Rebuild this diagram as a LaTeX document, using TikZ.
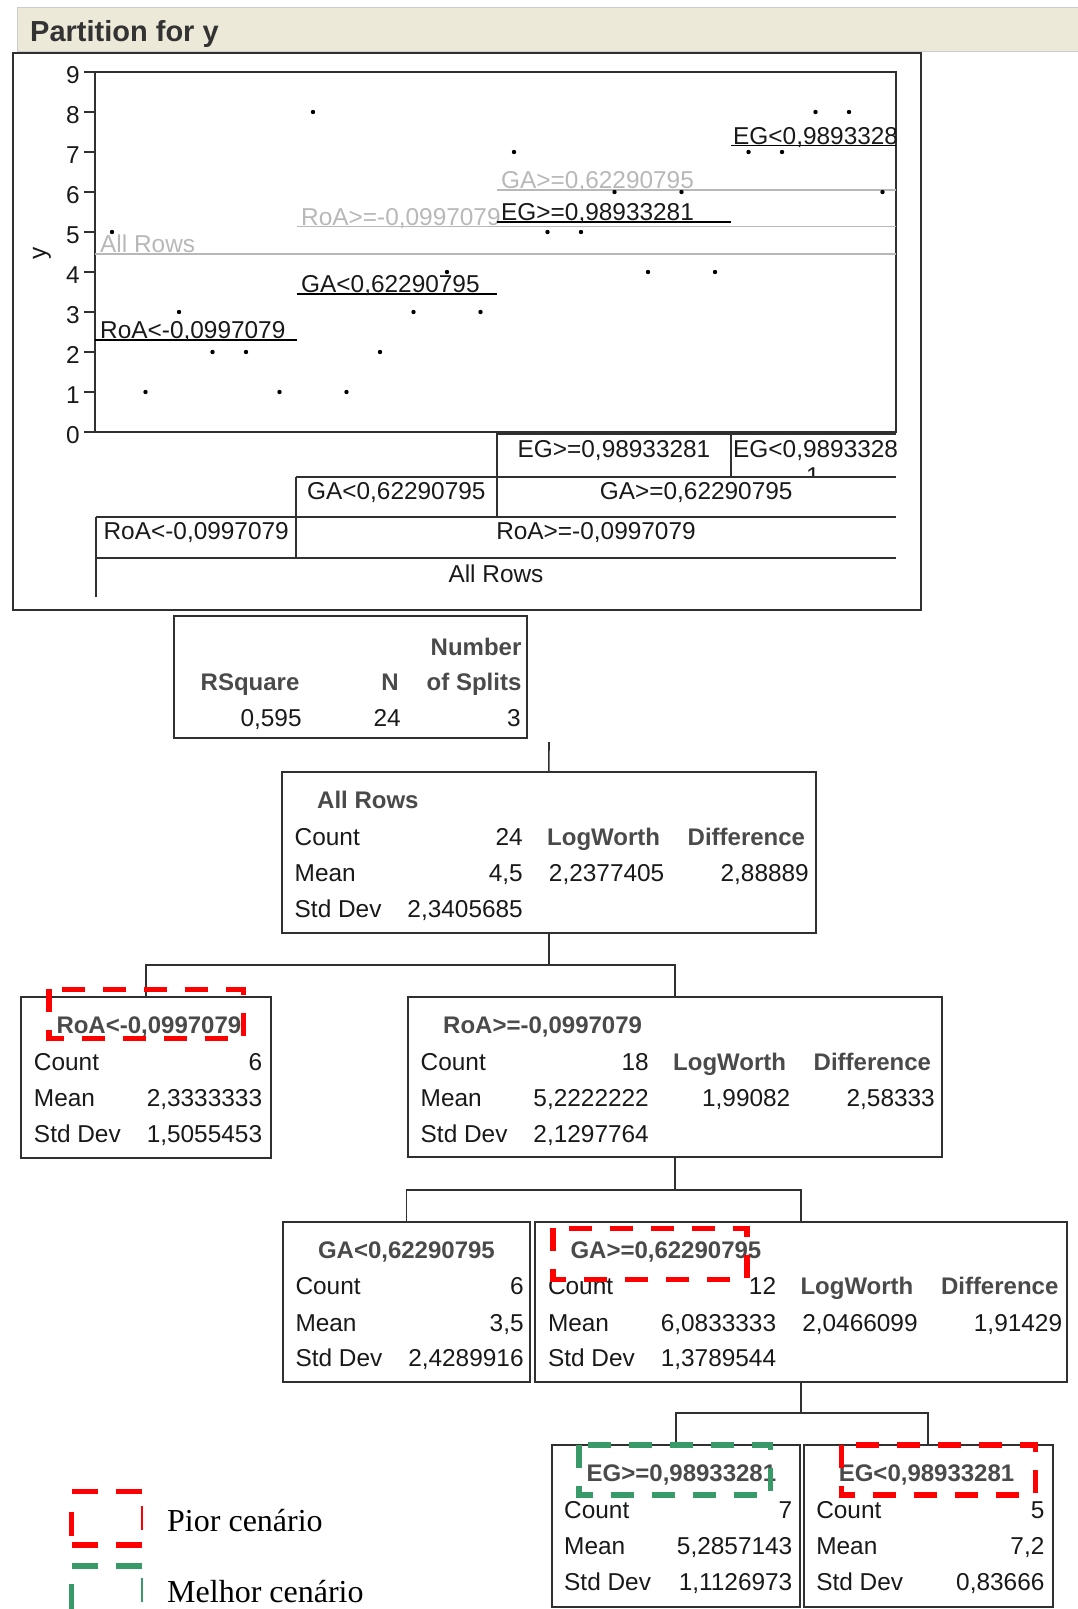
\documentclass[tikz,border=0pt]{standalone}
\usepackage{fontspec}
\setmainfont{Liberation Sans}
\newfontfamily\legendfont{Liberation Serif}
\usetikzlibrary{calc}

\definecolor{barbeige}{HTML}{ECE9D8}
\definecolor{framegray}{HTML}{303030}
\definecolor{titlegray}{HTML}{4A4A4A}
\definecolor{fitgray}{HTML}{B8B8B8}
\definecolor{worstred}{HTML}{FF0000}
\definecolor{bestgreen}{HTML}{389A68}

\tikzset{
  cell/.style={draw=framegray, line width=2pt, anchor=north west, inner sep=0pt, outer sep=0pt},
  lbl/.style={inner sep=0pt, text=black!90},
  hdr/.style={inner sep=0pt, text=titlegray, font=\fontsize{24}{28}\selectfont\bfseries},
  link/.style={draw=framegray, line width=1.6pt},
  worst/.style={draw=worstred, line width=5.5pt, dash pattern=on 23pt off 18pt},
  best/.style={draw=bestgreen, line width=5.5pt, dash pattern=on 23pt off 18pt},
  keydash/.style={line width=5.5pt, dash pattern=on 26pt off 18pt},
}

% one leaf of the tree: title, Count, Mean, Std Dev
\newcommand\leafstats[5]{%
  \node[hdr, anchor=base west] (#1-title) at ($(#1.north west)+(35,36.5)$) {#2};
  \node[lbl, anchor=base west] (#1-cl) at ($(#1.north west)+(12.5,73)$)  {Count};
  \node[lbl, anchor=base west] (#1-ml) at ($(#1.north west)+(12.5,109.5)$) {Mean};
  \node[lbl, anchor=base west] (#1-sl) at ($(#1.north west)+(12.5,145)$) {Std Dev};
  \node[lbl, anchor=base east] (#1-cv) at ($(#1.north west)+(241,73)$)  {#3};
  \node[lbl, anchor=base east] (#1-mv) at ($(#1.north west)+(241,109.5)$) {#4};
  \node[lbl, anchor=base east] (#1-sv) at ($(#1.north west)+(241,145)$) {#5};
}
% extra columns of a node that is split again
\newcommand\splitcols[3]{%
  \node[hdr, anchor=base west] (#1-lw)  at ($(#1.north west)+(265,73)$)    {LogWorth};
  \node[lbl, anchor=base east] (#1-lwv) at ($(#1.north west)+(382.5,109.5)$) {#2};
  \node[hdr, anchor=base west] (#1-df)  at ($(#1.north west)+(405.5,73)$)  {Difference};
  \node[lbl, anchor=base east] (#1-dfv) at ($(#1.north west)+(527,109.5)$) {#3};
}

\begin{document}
\begin{tikzpicture}[x=1pt, y=-1pt, font=\fontsize{24.4}{28}\selectfont]
  \useasboundingbox (0,0) rectangle (1077,1609);

  % header bar
  \draw[fill=barbeige, draw=black!20] (17,7) rectangle (1085,51);
  \node[anchor=base west, inner sep=0pt, text=black!80, font=\fontsize{29}{32}\selectfont\bfseries] (title) at (30,41.5) {Partition for y};

  % plot frame and axis
  \draw[framegray, line width=2pt] (12.7,53) rectangle (921.4,610);
  \draw[framegray, line width=1.8pt] (94.7,72) rectangle (895.8,432);
  \draw[framegray, line width=3pt] (496.6,433) -- (895.8,433);
  \foreach \v in {0,...,9} {
    \draw[framegray, line width=1.5pt] (84,432-40*\v) -- (94.7,432-40*\v);
    \node[lbl, anchor=base east] (tick\v) at (80,443.5-40*\v) {\v};
  }
  \node[lbl, rotate=90] (ylab) at (42,253) {y};

  % fitted means
  \draw[fitgray, line width=1.5pt] (94.7,254)   -- (895.8,254);
  \draw[fitgray, line width=1.5pt] (296.8,226.5) -- (895.8,226.5);
  \draw[fitgray, line width=1.5pt] (496.6,190)  -- (895.8,190);
  \node[lbl, text=fitgray, anchor=base west] (mAll) at (100,252.5) {All Rows};
  \node[lbl, text=fitgray, anchor=base west] (mRoAR) at (301,225) {RoA>=-0,0997079};
  \node[lbl, text=fitgray, anchor=base west] (mGAR) at (501,188.5) {GA>=0,62290795};
  \draw[black, line width=1.5pt] (94.7,340)   -- (296.8,340);
  \draw[black, line width=1.5pt] (296.8,294)  -- (496.6,294);
  \draw[black, line width=1.5pt] (496.6,222)  -- (731.4,222);
  \draw[black, line width=1.5pt] (731.4,145.7) -- (895.8,145.7);
  \node[lbl, anchor=base west] (mRoAL) at (100,338.5) {RoA<-0,0997079};
  \node[lbl, anchor=base west] (mGAL) at (301,292.5) {GA<0,62290795};
  \node[lbl, anchor=base west] (mEGL) at (501,220.5) {EG>=0,98933281};
  \node[lbl, anchor=base west] (mEGR) at (733,144.2) {EG<0,9893328};

  % observations
  \foreach \v [count=\k from 0] in {5,1,3,2,2,1,8,1,2,3,4,3,7,5,5,6,4,6,4,7,7,8,8,6}
    \fill (112+33.5*\k,432-40*\v) circle (2.2);

  % split table under the plot
  \draw[framegray, line width=2pt]
    (296,476.7) -- (895.8,476.7)
    (96.4,516.7) -- (895.8,516.7)
    (96.4,558.3) -- (895.8,558.3)
    (96.4,516.7) -- (96.4,596.7)
    (296,476.7) -- (296,558.3)
    (496.6,432) -- (496.6,516.7)
    (731.4,432) -- (731.4,476.7);
  \node[lbl, anchor=base] (tEGL) at (614,457) {EG>=0,98933281};
  \node[lbl, anchor=base west] (tEGR) at (733,457) {EG<0,9893328};
  \begin{scope}
    \clip (731.4,432) rectangle (895.8,475.7);
    \node[lbl, anchor=north] (tEGRwrap) at (813,468) {1};
  \end{scope}
  \node[lbl, anchor=base] (tGAL) at (396.3,499.3) {GA<0,62290795};
  \node[lbl, anchor=base] (tGAR) at (696.2,499.3) {GA>=0,62290795};
  \node[lbl, anchor=base] (tRoAL) at (196.2,539.3) {RoA<-0,0997079};
  \node[lbl, anchor=base] (tRoAR) at (596,539.3) {RoA>=-0,0997079};
  \node[lbl, anchor=base] (tAll) at (496,582) {All Rows};

  % summary of the fit
  \node[cell, minimum width=353.4pt, minimum height=122.3pt] (fitstats) at (174,616) {};
  \node[hdr, anchor=base east] (hNum) at (521.6,655) {Number};
  \node[hdr, anchor=base east] (hSpl) at (521.6,690.7) {of Splits};
  \node[hdr, anchor=base east] (hRsq) at (299.6,690.7) {RSquare};
  \node[hdr, anchor=base east] (hN) at (399,690.7) {N};
  \node[lbl, anchor=base east] (vRsq) at (301.8,726.7) {0,595};
  \node[lbl, anchor=base east] (vN) at (401,726.7) {24};
  \node[lbl, anchor=base east] (vSpl) at (520.8,726.7) {3};

  % tree
  \node[cell, minimum width=533.6pt, minimum height=161pt]   (allrows) at (282,772) {};
  \node[cell, minimum width=249.7pt, minimum height=161pt]   (roaL) at (21.3,997) {};
  \node[cell, minimum width=534.2pt, minimum height=160pt]   (roaR) at (408,997) {};
  \node[cell, minimum width=247.4pt, minimum height=160pt]   (gaL) at (282.8,1221.7) {};
  \node[cell, minimum width=531.7pt, minimum height=160pt]   (gaR) at (535.3,1221.7) {};
  \node[cell, minimum width=248.5pt, minimum height=161.7pt] (egL) at (551.5,1445) {};
  \node[cell, minimum width=249.3pt, minimum height=161.7pt] (egR) at (803.6,1445) {};

  \leafstats{allrows}{All Rows}{24}{4,5}{2,3405685}
  \splitcols{allrows}{2,2377405}{2,88889}
  \leafstats{roaL}{RoA<-0,0997079}{6}{2,3333333}{1,5055453}
  \leafstats{roaR}{RoA>=-0,0997079}{18}{5,2222222}{2,1297764}
  \splitcols{roaR}{1,99082}{2,58333}
  \leafstats{gaL}{GA<0,62290795}{6}{3,5}{2,4289916}
  \leafstats{gaR}{GA>=0,62290795}{12}{6,0833333}{1,3789544}
  \splitcols{gaR}{2,0466099}{1,91429}
  \leafstats{egL}{EG>=0,98933281}{7}{5,2857143}{1,1126973}
  \leafstats{egR}{EG<0,98933281}{5}{7,2}{0,83666}

  \coordinate (stem) at (549,742);
  \draw[link] (stem) -- (allrows.north);
  \draw[link] (allrows.south) -- ++(0,32) -| (roaL.north);
  \draw[link] (allrows.south) -- ++(0,32) -| (roaR.north);
  \draw[link] (roaR.south) -- ++(0,33) -| (gaL.north);
  \draw[link] (roaR.south) -- ++(0,33) -| (gaR.north);
  \draw[link] (gaR.south) -- ++(0,31) -| (egL.north);
  \draw[link] (gaR.south) -- ++(0,31) -| (egR.north);

  % worst / best scenario marks
  \draw[worst] (49,989.3) rectangle (243.5,1038.3);
  \draw[worst] (553,1228.3) rectangle (747,1279.3);
  \draw[worst] (841.3,1445) rectangle (1035.7,1495);
  \draw[best]  (579,1445) rectangle (770.6,1495);

  % legend
  \draw[worstred, keydash] (71.7,1491.7) -- (141.7,1491.7);
  \draw[worstred, keydash] (71.7,1545) -- (141.7,1545);
  \draw[worstred, line width=5.5pt] (71.7,1511.7) -- (71.7,1536);
  \draw[worstred, line width=2pt] (141.7,1506) -- (141.7,1530);
  \draw[bestgreen, keydash] (71.7,1566) -- (141.7,1566);
  \draw[bestgreen, line width=5.5pt] (71.7,1584) -- (71.7,1615);
  \draw[bestgreen, line width=2pt] (141.7,1578) -- (141.7,1602);
  \node[anchor=base west, inner sep=0pt, font=\legendfont\fontsize{32}{36}\selectfont] (pior) at (167,1531.7) {Pior cenário};
  \node[anchor=base west, inner sep=0pt, font=\legendfont\fontsize{32}{36}\selectfont] (melhor) at (167,1602) {Melhor cenário};
\end{tikzpicture}
\end{document}
